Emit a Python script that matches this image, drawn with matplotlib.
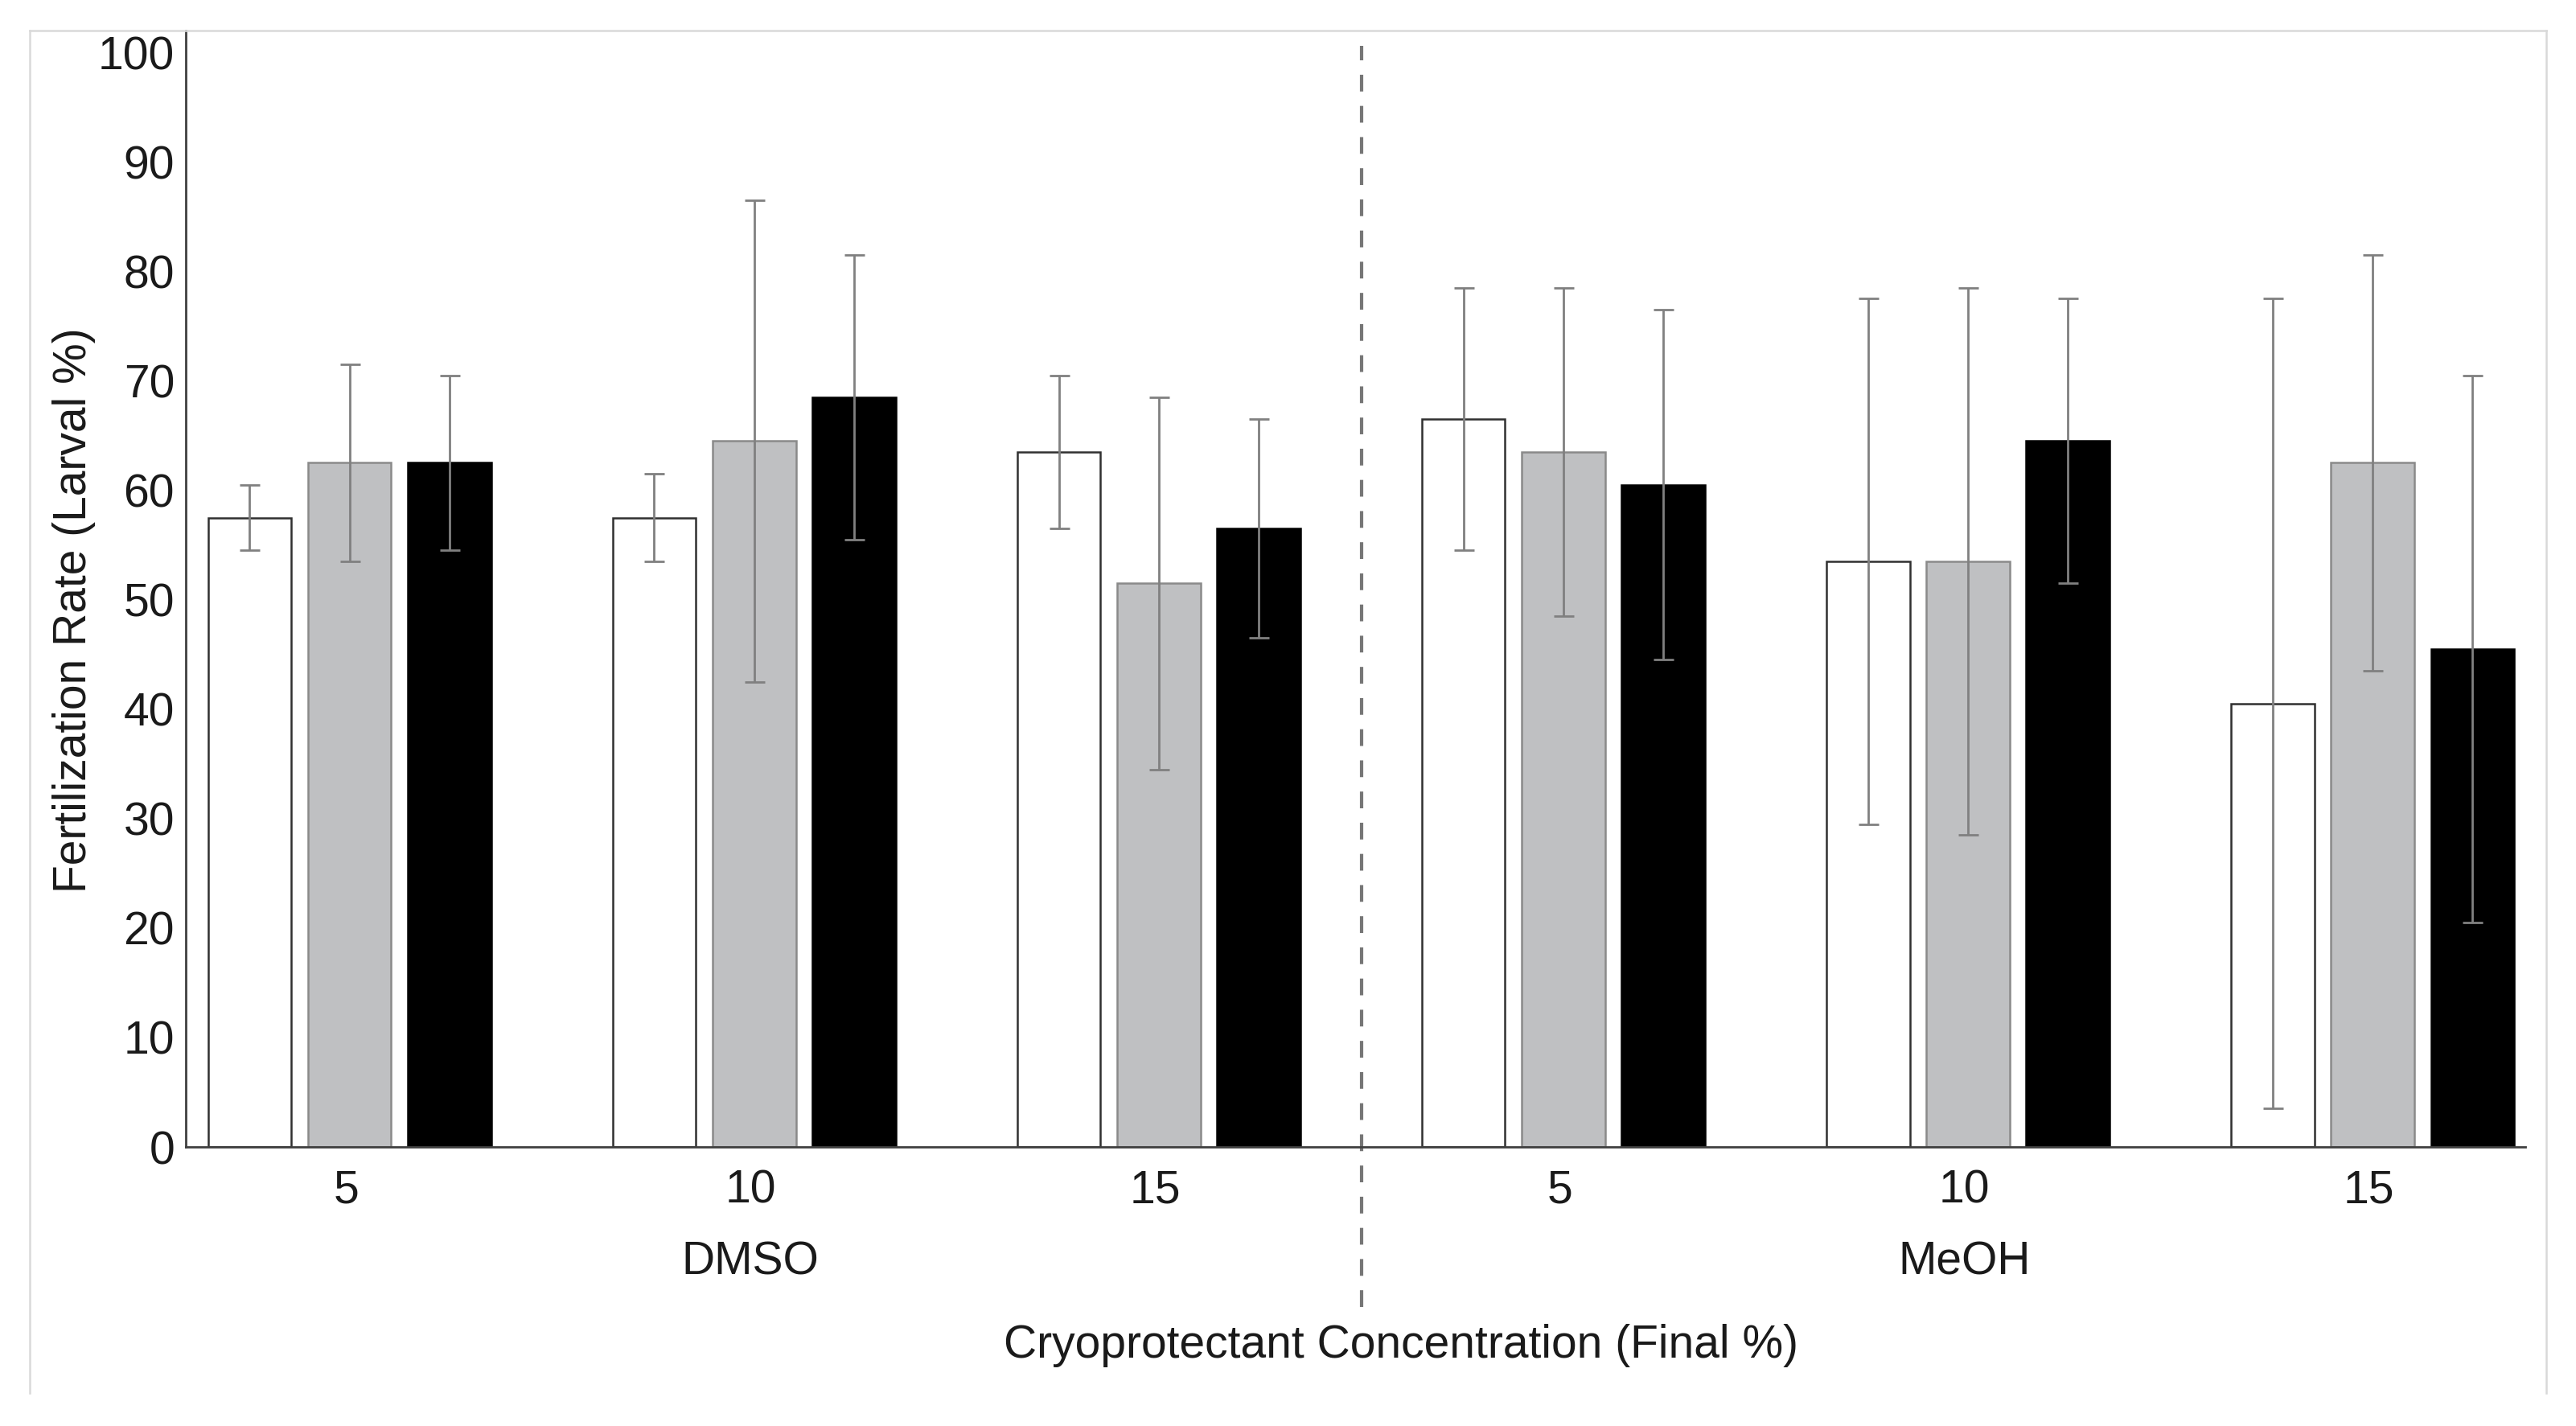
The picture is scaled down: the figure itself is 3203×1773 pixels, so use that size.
import matplotlib
matplotlib.use('Agg')
import matplotlib.pyplot as plt
import matplotlib.transforms as mtransforms
from matplotlib.lines import Line2D
import numpy as np

plt.rcParams['font.family'] = ['Liberation Sans', 'DejaVu Sans']

# ---- data ----
concentrations = ['5', '10', '15', '5', '10', '15']
solvents = ['DMSO', 'MeOH']
white_vals = [57.5, 57.5, 63.5, 66.5, 53.5, 40.5]
white_err = [3, 4, 7, 12, 24, 37]
gray_vals = [62.5, 64.5, 51.5, 63.5, 53.5, 62.5]
gray_err = [9, 22, 17, 15, 25, 19]
black_vals = [62.5, 68.5, 56.5, 60.5, 64.5, 45.5]
black_err = [8, 13, 10, 16, 13, 25]
yticks = list(range(0, 101, 10))

FS = 20.5
fig = plt.figure(figsize=(16.015, 8.865), dpi=200)
ax = fig.add_axes([0.0721, 0.1957, 0.9083, 0.7829])

x = np.arange(len(concentrations))
offset, step, width = 0.009, 0.247, 0.206
series = [
    (white_vals, white_err, 'white', '#303030'),
    (gray_vals, gray_err, '#bfc0c2', '#8a8a8a'),
    (black_vals, black_err, 'black', 'black'),
]
for i, (v, e, fc, ec) in enumerate(series):
    xs = x + offset + (i - 1) * step
    ax.bar(xs, v, width=width, color=fc, edgecolor=ec, linewidth=0.9, zorder=2)
    ax.errorbar(xs, v, yerr=e, fmt='none', ecolor='#808080', elinewidth=1.0,
                capsize=4.5, capthick=1.0, zorder=3)

ax.set_xlim(-0.396, 5.387)
ax.set_ylim(0, 102)
ax.set_yticks(yticks)
ax.set_xticks(x)
ax.set_xticklabels(concentrations)
ax.tick_params(axis='both', length=0, labelsize=FS, colors='#1a1a1a')
ax.tick_params(axis='y', pad=5)
ax.tick_params(axis='x', pad=10)
for s in ['top', 'right']:
    ax.spines[s].set_visible(False)
for s in ['left', 'bottom']:
    ax.spines[s].set_color('#404040')
    ax.spines[s].set_linewidth(1.0)

trans = mtransforms.blended_transform_factory(ax.transData, ax.transAxes)
# dashed separator
ax.plot([2.51, 2.51], [-0.143, 0.986], transform=trans, color='#767676',
        lw=1.5, dashes=(5, 4.3), clip_on=False, zorder=1)

# group labels
ax.text(1.0, -0.1035, solvents[0], transform=trans, ha='center', va='center',
        fontsize=FS, color='#1a1a1a')
ax.text(4.0, -0.1035, solvents[1], transform=trans, ha='center', va='center',
        fontsize=FS, color='#1a1a1a')

fig.text(0.544, 0.0565, 'Cryoprotectant Concentration (Final %)', ha='center',
         va='center', fontsize=FS, color='#1a1a1a')
fig.text(0.0287, 0.572, 'Fertilization Rate (Larval %)', rotation=90,
         ha='center', va='center', fontsize=FS, color='#1a1a1a')

# light outer frame
fc = '#d9d9d9'
fig.add_artist(Line2D([0.01155, 0.01155], [0.023, 0.9786], transform=fig.transFigure, color=fc, lw=0.9))
fig.add_artist(Line2D([0.01155, 0.9884], [0.9786, 0.9786], transform=fig.transFigure, color=fc, lw=0.9))
fig.add_artist(Line2D([0.9884, 0.9884], [0.023, 0.9786], transform=fig.transFigure, color=fc, lw=0.9))

fig.savefig('out.png', dpi=200)
